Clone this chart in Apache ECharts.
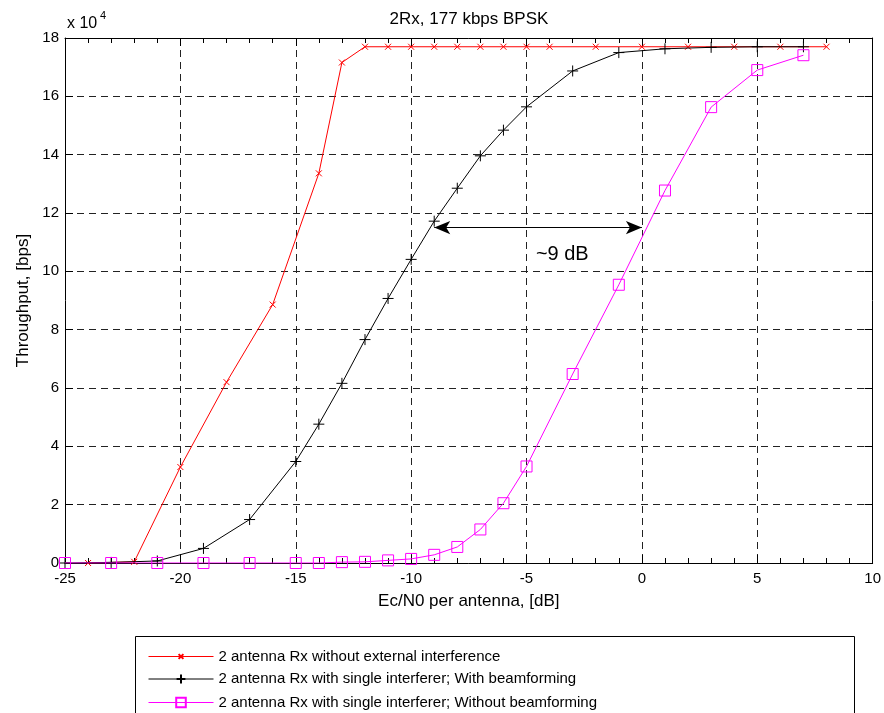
<!DOCTYPE html>
<html>
<head>
<meta charset="utf-8">
<script src="https://cdn.jsdelivr.net/npm/echarts@6/dist/echarts.min.js"></script>
<style>
html,body{margin:0;padding:0;background:#fff;}
#chart{width:884px;height:713px;}
</style>
</head>
<body>
<div id="chart"></div>
<script>
// Data (throughput in bps vs Ec/N0 in dB)
const redX = [-24, -22, -20, -18, -16, -14, -13, -12, -11, -10, -9, -8, -7, -6, -5, -4, -2, 0, 2, 4, 6, 8];
const redY = [0, 400, 32900, 62000, 88600, 133600, 171600, 177000, 177000, 177000, 177000, 177000, 177000, 177000, 177000, 177000, 177000, 177000, 177000, 177000, 177000, 177000];
const blackX = [-25, -23, -21, -19, -17, -15, -14, -13, -12, -11, -10, -9, -8, -7, -6, -5, -3, -1, 1, 3, 5, 7];
const blackY = [0, 200, 700, 5000, 14900, 34800, 47600, 61600, 76600, 90700, 104100, 117200, 128500, 139600, 148400, 156400, 168700, 175000, 176300, 176800, 177000, 177000];
const magentaX = [-25, -23, -21, -19, -17, -15, -14, -13, -12, -11, -10, -9, -8, -7, -6, -5, -3, -1, 1, 3, 5, 7];
const magentaY = [0, 0, 0, 0, 0, 0, 0, 300, 400, 900, 1400, 2800, 5500, 11500, 20500, 33100, 64800, 95400, 127700, 156300, 169000, 174100];
const seriesNames = [
  '2 antenna Rx without external interference',
  '2 antenna Rx with single interferer; With beamforming',
  '2 antenna Rx with single interferer; Without beamforming'
];
const titleText = '2Rx, 177 kbps BPSK';
const xName = 'Ec/N0 per antenna, [dB]';
const yName = 'Throughput, [bps]';
const arrowStart = [-9, 115000];
const arrowEnd = [0, 115000];
const annotText = '~9 dB';
const annotPos = [-3.45, 105800];

const pairs = (xs, ys) => xs.map((x, i) => [x, ys[i]]);
const FONT = 'Liberation Sans, Arial, sans-serif';

const chart = echarts.init(document.getElementById('chart'));

const gridDash = {show: true, lineStyle: {color: '#222', width: 1, type: [7, 5]}};
const baseX = {
  type: 'value', min: -25, max: 10, interval: 5,
  axisLine: {show: true, onZero: false, lineStyle: {color: '#000', width: 1}},
  axisTick: {show: true, inside: true, length: 8, lineStyle: {color: '#000'}},
  minorTick: {show: true, splitNumber: 5, length: 5, lineStyle: {color: '#000'}},
};
const baseY = {
  type: 'value', min: 0, max: 180000, interval: 20000,
  axisLine: {show: true, onZero: false, lineStyle: {color: '#000', width: 1}},
  axisTick: {show: true, inside: true, length: 8, lineStyle: {color: '#000'}},
};

// legend rows: one legend per series so each icon gets its own marker size
const legendRowCenters = [652, 677, 701];
const legendIconHeights = [6, 11, 12];
const legends = seriesNames.map((n, i) => ({
  orient: 'vertical', left: 148, top: legendRowCenters[i] - legendIconHeights[i] / 2,
  padding: 0,
  itemWidth: 65, itemHeight: legendIconHeights[i],
  lineStyle: {width: 1},
  textStyle: {fontFamily: FONT, fontSize: 15, color: '#000'},
  data: [n]
}));

const option = {
  animation: false,
  backgroundColor: '#fff',
  grid: {left: 65, right: 11, top: 38, bottom: 150, containLabel: false},
  xAxis: [
    Object.assign({}, baseX, {
      position: 'bottom',
      name: xName, nameLocation: 'middle', nameGap: 30,
      nameTextStyle: {fontFamily: FONT, fontSize: 17, color: '#000'},
      axisLabel: {show: true, margin: 8, fontFamily: FONT, fontSize: 15, color: '#000'},
      splitLine: gridDash
    }),
    Object.assign({}, baseX, {
      position: 'top',
      axisLabel: {show: false},
      splitLine: {show: false}
    })
  ],
  yAxis: [
    Object.assign({}, baseY, {
      position: 'left',
      name: yName, nameLocation: 'middle', nameGap: 33,
      nameTextStyle: {fontFamily: FONT, fontSize: 17, color: '#000'},
      axisLabel: {show: true, margin: 6, fontFamily: FONT, fontSize: 15, color: '#000',
        formatter: v => String(v / 10000)},
      splitLine: gridDash
    }),
    Object.assign({}, baseY, {
      position: 'right',
      axisLabel: {show: false},
      splitLine: {show: false}
    })
  ],
  legend: legends,
  graphic: [
    {type: 'rect', left: 135, top: 636, z: -1,
      shape: {width: 719, height: 100},
      style: {fill: '#fff', stroke: '#000', lineWidth: 1}},
    {type: 'text', x: 469, y: 11,
      style: {text: titleText, font: '17px ' + FONT, fill: '#000', textAlign: 'center'}},
    {type: 'text', left: 67, top: 16,
      style: {text: 'x 10', font: '16px ' + FONT, fill: '#000'}},
    {type: 'text', left: 100, top: 10,
      style: {text: '4', font: '11px ' + FONT, fill: '#000'}}
  ],
  series: [
    {
      name: seriesNames[0], type: 'line', xAxisIndex: 0, yAxisIndex: 0,
      data: pairs(redX, redY),
      symbol: 'path://M0,0L10,10M10,0L0,10', symbolSize: 6,
      lineStyle: {color: '#ff0000', width: 1},
      itemStyle: {color: 'rgba(0,0,0,0)', borderColor: '#ff0000', borderWidth: 1},
      z: 2
    },
    {
      name: seriesNames[1], type: 'line', xAxisIndex: 0, yAxisIndex: 0,
      data: pairs(blackX, blackY),
      symbol: 'path://M5,0L5,10M0,5L10,5', symbolSize: 11,
      lineStyle: {color: '#000000', width: 1},
      itemStyle: {color: 'rgba(0,0,0,0)', borderColor: '#000000', borderWidth: 1},
      z: 3,
      markLine: {
        silent: true, symbol: ['arrow', 'arrow'], symbolSize: [10, 16],
        label: {show: false},
        lineStyle: {color: '#000', width: 1, type: 'solid'},
        data: [[{coord: arrowStart}, {coord: arrowEnd}]]
      },
      markPoint: {
        silent: true, symbol: 'circle', symbolSize: 0,
        label: {show: true, position: 'inside', formatter: annotText,
          fontFamily: FONT, fontSize: 20, color: '#000'},
        data: [{coord: annotPos}]
      }
    },
    {
      name: seriesNames[2], type: 'line', xAxisIndex: 0, yAxisIndex: 0,
      data: pairs(magentaX, magentaY),
      symbol: 'rect', symbolSize: 11,
      lineStyle: {color: '#ff00ff', width: 1},
      itemStyle: {color: 'rgba(0,0,0,0)', borderColor: '#ff00ff', borderWidth: 1},
      z: 4
    }
  ]
};
chart.setOption(option);
</script>
</body>
</html>
